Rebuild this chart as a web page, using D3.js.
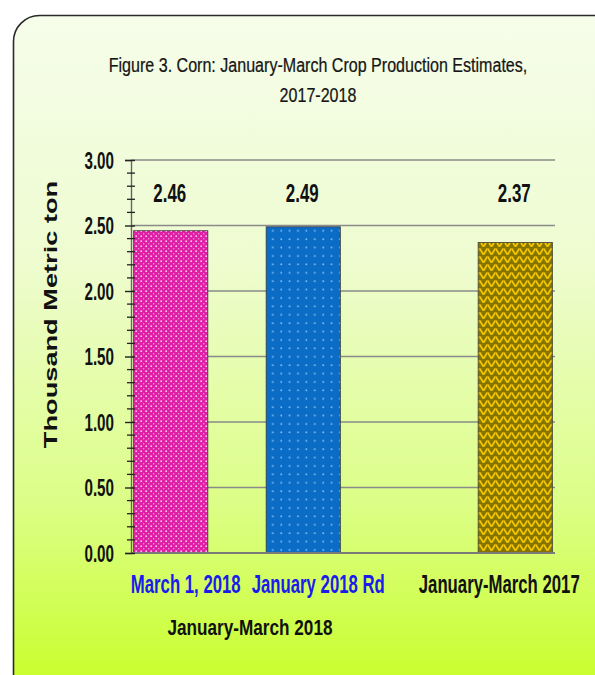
<!DOCTYPE html>
<html>
<head>
<meta charset="utf-8">
<script src="https://cdn.jsdelivr.net/npm/d3@7"></script>
<style>
  html, body { margin: 0; padding: 0; background: #fff; }
  svg { display: block; }
  .bold { font-family: "Liberation Sans", Arial, sans-serif; font-weight: bold; }
</style>
</head>
<body>
<div id="chart"></div>
<script>
// ---- data ----
var titleLines = ['Figure 3. Corn:  January-March  Crop Production Estimates,', '2017-2018'];
var groups = ['January-March 2018', 'January-March 2017'];
var categories = ['March 1, 2018', 'January 2018 Rd', 'January-March 2017'];
var categoryGroup = ['January-March 2018', 'January-March 2018', 'January-March 2017'];
var values = [2.46, 2.49, 2.37];
var yTicks = [0, 0.5, 1, 1.5, 2, 2.5, 3];
var yLabel = 'Thousand Metric ton';

// ---- styles ----
var barPatterns = ['pat-pink', 'pat-blue', 'pat-gold'];
var labelColors = ['#1b1bea', '#1b1bea', '#111'];

var W = 595, H = 675;
var margin = { left: 131, right: 40, top: 160, bottom: 122 };

// text in the picture is tall and narrow: draw it squeezed horizontally
function squeeze(sel, sx, fx, fy) {
    sel.attr('x', 0).attr('y', 0)
        .attr('transform', function(d, i) {
            return 'translate(' + fx(d, i) + ',' + fy(d, i) + ') scale(' + sx + ',1)';
        });
    return sel;
}

var svg = d3.select('#chart').append('svg')
    .attr('width', W)
    .attr('height', H);

var defs = svg.append('defs');

var bg = defs.append('linearGradient')
    .attr('id', 'bg')
    .attr('x1', 0).attr('y1', 0).attr('x2', 0).attr('y2', 1);
bg.append('stop').attr('offset', '0%').attr('stop-color', '#f6fdea');
bg.append('stop').attr('offset', '35%').attr('stop-color', '#eefcd0');
bg.append('stop').attr('offset', '70%').attr('stop-color', '#dcfe86');
bg.append('stop').attr('offset', '100%').attr('stop-color', '#c6fe1c');

// pink with dense white dots
var pPink = defs.append('pattern').attr('id', 'pat-pink')
    .attr('patternUnits', 'userSpaceOnUse').attr('width', 5).attr('height', 5);
pPink.append('rect').attr('width', 5).attr('height', 5).attr('fill', '#df1fa6');
pPink.append('circle').attr('cx', 1.2).attr('cy', 1.2).attr('r', 0.9).attr('fill', '#f7c6ea');
pPink.append('circle').attr('cx', 3.7).attr('cy', 3.7).attr('r', 0.7).attr('fill', '#f2a2dc');

// blue with sparse light dots
var pBlue = defs.append('pattern').attr('id', 'pat-blue')
    .attr('patternUnits', 'userSpaceOnUse').attr('width', 8.4).attr('height', 8.4);
pBlue.append('rect').attr('width', 8.4).attr('height', 8.4).attr('fill', '#0b6cc6');
pBlue.append('circle').attr('cx', 4).attr('cy', 4).attr('r', 0.9).attr('fill', '#8cc4f0');

// olive with yellow herringbone
var pGold = defs.append('pattern').attr('id', 'pat-gold')
    .attr('patternUnits', 'userSpaceOnUse').attr('width', 8).attr('height', 8);
pGold.append('rect').attr('width', 8).attr('height', 8).attr('fill', '#857500');
pGold.append('path')
    .attr('d', 'M0,1 L3,6 M4,6 L7,1 M4,-2 L4.6,-1 M8,-2 L7.4,-1 M0,9 L0.6,10 M8,9 L7.4,10')
    .attr('fill', 'none')
    .attr('stroke', '#f0c400')
    .attr('stroke-width', 1.8)
    .attr('stroke-linecap', 'round');

// frame
svg.append('rect')
    .attr('x', 13.5).attr('y', 15.5)
    .attr('width', 640).attr('height', 700)
    .attr('rx', 26).attr('ry', 26)
    .attr('fill', 'url(#bg)')
    .attr('stroke', '#2a2a2a')
    .attr('stroke-width', 1.6);

// title
svg.append('g')
    .selectAll('text')
    .data(titleLines)
    .join('text')
    .attr('text-anchor', 'middle')
    .attr('font-family', '"Liberation Sans", Arial, sans-serif')
    .attr('font-size', 21)
    .attr('fill', '#151515')
    .attr('stroke', '#151515')
    .attr('stroke-width', 0.25)
    .text(function(d) { return d; })
    .call(squeeze, 0.765, function() { return 318; }, function(d, i) { return 72 + i * 30; });

// scales
var x0 = margin.left, x1 = W - margin.right;
var y = d3.scaleLinear().domain([0, 3]).range([H - margin.bottom, margin.top]);

var outer = d3.scaleBand().domain(groups).range([x0, x1]).paddingInner(0);
var maxPerGroup = d3.max(groups, function(g) {
    return categoryGroup.filter(function(c) { return c === g; }).length;
});
var inner = d3.scaleBand().domain(d3.range(maxPerGroup))
    .range([0, outer.bandwidth()])
    .paddingInner(0.44)
    .paddingOuter(0.02);

// right-align each group's bars inside its band
var bars = categories.map(function(c, i) {
    var g = categoryGroup[i];
    var members = categoryGroup.map(function(cg, j) { return cg === g ? j : -1; })
        .filter(function(j) { return j >= 0; });
    var slot = maxPerGroup - members.length + members.indexOf(i);
    return {
        name: c, value: values[i], group: g, idx: i,
        gi: groups.indexOf(g),
        x: outer(g) + inner(slot)
    };
});
var bw = inner.bandwidth();

// grid lines
svg.append('g')
    .selectAll('line')
    .data(yTicks.filter(function(t) { return t > 0; }))
    .join('line')
    .attr('x1', x0).attr('x2', x1)
    .attr('y1', function(d) { return y(d); })
    .attr('y2', function(d) { return y(d); })
    .attr('stroke', '#8a8a8a')
    .attr('stroke-width', 1.6);

// bars
svg.append('g')
    .selectAll('rect')
    .data(bars)
    .join('rect')
    .attr('x', function(d) { return d.x; })
    .attr('y', function(d) { return y(d.value); })
    .attr('width', bw)
    .attr('height', function(d) { return y(0) - y(d.value); })
    .attr('fill', function(d) { return 'url(#' + barPatterns[d.idx] + ')'; })
    .attr('stroke', '#3a3a3a')
    .attr('stroke-width', 0.8);

// baseline
svg.append('line')
    .attr('x1', x0).attr('x2', x1)
    .attr('y1', y(0)).attr('y2', y(0))
    .attr('stroke', '#7a7a7a')
    .attr('stroke-width', 1.8);

// y axis
var yAxis = d3.axisLeft(y)
    .tickValues(yTicks)
    .tickFormat(d3.format('.2f'))
    .tickSize(6)
    .tickPadding(10);
var yAxisG = svg.append('g')
    .attr('transform', 'translate(' + x0 + ',0)')
    .call(yAxis);
yAxisG.select('.domain').attr('stroke', '#666').attr('stroke-width', 1.4);
yAxisG.selectAll('.tick line').attr('stroke', '#222').attr('stroke-width', 1.4).attr('x2', 4).attr('x1', -6);
yAxisG.selectAll('.tick text')
    .attr('class', 'bold')
    .attr('font-size', 23)
    .attr('dy', '0.36em')
    .attr('fill', '#111')
    .call(squeeze, 0.66, function() { return -17; }, function() { return 0; });

// minor ticks every 0.1
svg.append('g')
    .selectAll('line')
    .data(d3.range(0, 31).map(function(k) { return k / 10; }).filter(function(v) { return Math.round(v * 10) % 5 !== 0; }))
    .join('line')
    .attr('x1', x0 - 4).attr('x2', x0 + 4)
    .attr('y1', function(d) { return y(d); })
    .attr('y2', function(d) { return y(d); })
    .attr('stroke', '#222')
    .attr('stroke-width', 1.3);

// value labels
svg.append('g')
    .selectAll('text')
    .data(bars)
    .join('text')
    .attr('class', 'bold')
    .attr('text-anchor', 'middle')
    .attr('font-size', 26)
    .attr('fill', '#111')
    .text(function(d) { return d3.format('.2f')(d.value); })
    .call(squeeze, 0.65, function(d) { return d.x + bw / 2 - 1; }, function() { return y(2.68); });

// category labels
svg.append('g')
    .selectAll('text')
    .data(bars)
    .join('text')
    .attr('class', 'bold')
    .attr('text-anchor', 'middle')
    .attr('font-size', 25)
    .attr('fill', function(d) { return labelColors[d.idx]; })
    .text(function(d) { return d.name; })
    .call(squeeze, 0.67, function(d) { return d.x + bw / 2 + (d.gi === 0 ? 15 : -16); },
        function() { return y(0) + 40; });

// group labels (only groups holding several categories)
svg.append('g')
    .selectAll('text')
    .data(groups.filter(function(g) {
        return categoryGroup.filter(function(c) { return c === g; }).length > 1;
    }))
    .join('text')
    .attr('class', 'bold')
    .attr('text-anchor', 'middle')
    .attr('font-size', 22)
    .attr('fill', '#111')
    .text(function(d) { return d; })
    .call(squeeze, 0.78, function(g) {
        var gb = bars.filter(function(b) { return b.group === g; });
        return (gb[0].x + gb[gb.length - 1].x + bw) / 2 + 13;
    }, function() { return y(0) + 82; });

// y axis title (stretched along its length)
svg.append('text')
    .attr('transform', 'translate(57,' + ((y(0) + y(3)) / 2 - 42) + ') rotate(-90) scale(1.47,1)')
    .attr('text-anchor', 'middle')
    .attr('class', 'bold')
    .attr('font-size', 18.5)
    .attr('fill', '#111')
    .text(yLabel);
</script>
</body>
</html>
